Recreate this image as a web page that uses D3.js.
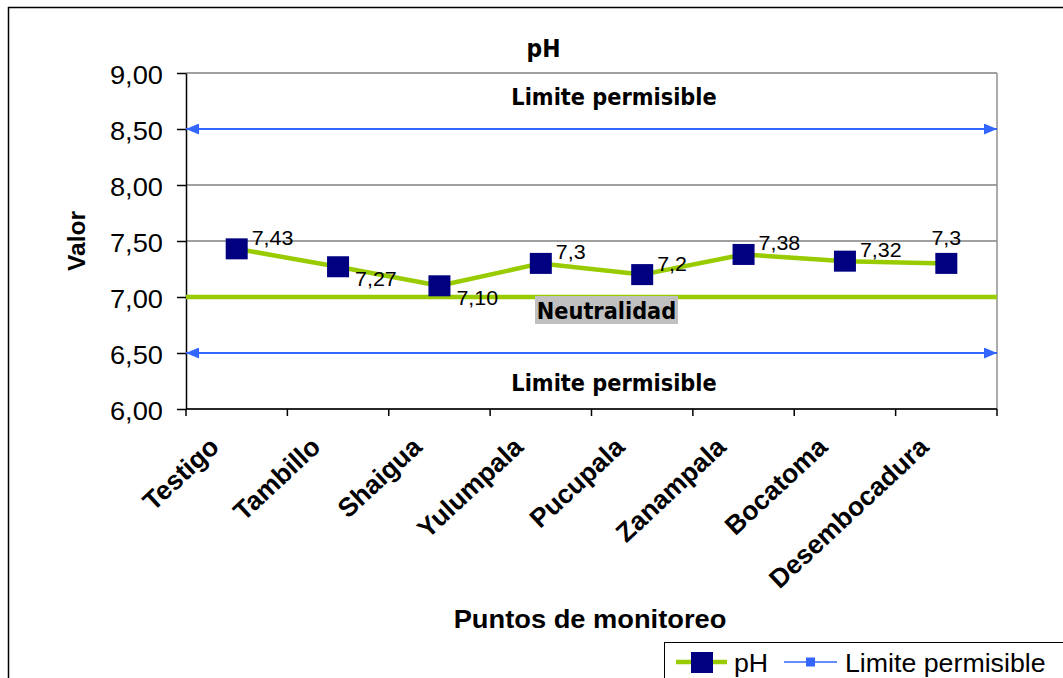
<!DOCTYPE html>
<html>
<head>
<meta charset="utf-8">
<script src="https://cdn.jsdelivr.net/npm/d3@7"></script>
<style>
  html, body { margin: 0; padding: 0; background: #fff; }
  svg { display: block; }
</style>
</head>
<body>
<script>
// pH readings at each monitoring point
const categories = ["Testigo", "Tambillo", "Shaigua", "Yulumpala", "Pucupala", "Zanampala", "Bocatoma", "Desembocadura"];
const phValues = [7.43, 7.27, 7.10, 7.3, 7.2, 7.38, 7.32, 7.3];
const phLabels = ["7,43", "7,27", "7,10", "7,3", "7,2", "7,38", "7,32", "7,3"];
const labelSide = ["right", "below", "below", "right", "right", "right", "right", "above"];
const yTicks = [6, 6.5, 7, 7.5, 8, 8.5, 9];
const limitValues = [6.5, 8.5];
const neutralValue = 7.0;

const W = 1063, H = 678;
const plot = { left: 186, right: 997, top: 73, bottom: 409 };
const ARIAL = "'Liberation Sans', Arial, sans-serif";
const TAHOMA = "'DejaVu Sans', Verdana, sans-serif";
const SX = 1.07;          // slight widening of the Arial-style text
const TX = 0.91;          // slight narrowing of the Tahoma-style text
const GREEN = "#99cc00", NAVY = "#000080", BLUE = "#3366ff";

const comma = v => d3.format(".2f")(v).replace(".", ",");

const svg = d3.select("body").append("svg").attr("width", W).attr("height", H);

// chart frame
svg.append("rect").attr("x", 8.5).attr("y", 7.5).attr("width", 1100).attr("height", 700)
  .attr("fill", "#fff").attr("stroke", "#000").attr("stroke-width", 1.5);

const x = d3.scaleBand().domain(categories).range([plot.left, plot.right]);
const y = d3.scaleLinear().domain([6, 9]).range([plot.bottom, plot.top]);

// horizontally scaled text helper
function scaledText(parent, px, py, str, opts) {
  return parent.append("text")
    .attr("transform", `translate(${px},${py}) scale(${opts.sx},1)`)
    .attr("font-family", opts.family)
    .attr("font-size", opts.size)
    .attr("font-weight", opts.weight || "normal")
    .attr("text-anchor", opts.anchor || "start")
    .attr("fill", "#000")
    .text(str);
}
const arialText = (p, px, py, s, o) => scaledText(p, px, py, s, Object.assign({ family: ARIAL, sx: SX }, o));
const tahomaText = (p, px, py, s, o) => scaledText(p, px, py, s, Object.assign({ family: TAHOMA, sx: TX, weight: "bold", anchor: "middle" }, o));

// gridlines
svg.append("g").selectAll("line").data(yTicks).join("line")
  .attr("x1", plot.left).attr("x2", plot.right)
  .attr("y1", d => y(d)).attr("y2", d => y(d))
  .attr("stroke", "#808080").attr("stroke-width", 1.5);

// right edge of the plot area
svg.append("line").attr("x1", plot.right).attr("x2", plot.right)
  .attr("y1", plot.top).attr("y2", plot.bottom)
  .attr("stroke", "#909090").attr("stroke-width", 1.5);

// y axis
const yAxis = svg.append("g").attr("transform", `translate(${plot.left},0)`)
  .call(d3.axisLeft(y).tickValues(yTicks).tickSize(9).tickSizeOuter(0).tickFormat(comma));
yAxis.select(".domain").attr("stroke", "#000").attr("stroke-width", 1.5);
yAxis.selectAll(".tick line").attr("stroke", "#000").attr("stroke-width", 1.5);
yAxis.selectAll(".tick text")
  .attr("x", -23 / SX).attr("dy", "0.4em")
  .attr("transform", `scale(${SX},1)`)
  .attr("font-family", ARIAL).attr("font-size", 25.5).attr("fill", "#000");

// x axis with ticks on category boundaries
const xAxis = svg.append("g");
xAxis.append("line").attr("x1", plot.left).attr("x2", plot.right)
  .attr("y1", plot.bottom).attr("y2", plot.bottom)
  .attr("stroke", "#000").attr("stroke-width", 1.5);
xAxis.selectAll("line.tk").data(d3.range(categories.length + 1)).join("line")
  .attr("class", "tk")
  .attr("x1", i => plot.left + i * x.step()).attr("x2", i => plot.left + i * x.step())
  .attr("y1", plot.bottom).attr("y2", plot.bottom + 7)
  .attr("stroke", "#000").attr("stroke-width", 1.5);
xAxis.selectAll("text").data(categories).join("text")
  .attr("transform", d => `translate(${x(d) + x.bandwidth() / 2 - 16},${plot.bottom + 40}) rotate(-43)`)
  .attr("text-anchor", "end")
  .attr("font-family", ARIAL).attr("font-size", 26.5).attr("font-weight", "bold")
  .attr("fill", "#000")
  .text(d => d);

// arrow heads for the permissible-limit lines
const defs = svg.append("defs");
defs.append("marker").attr("id", "arrow")
  .attr("viewBox", "0 0 13 11").attr("refX", 13).attr("refY", 5.5)
  .attr("markerUnits", "userSpaceOnUse").attr("markerWidth", 13).attr("markerHeight", 11)
  .attr("orient", "auto-start-reverse")
  .append("path").attr("d", "M0,0 L13,5.5 L0,11 Z").attr("fill", BLUE);

svg.append("g").selectAll("line").data(limitValues).join("line")
  .attr("x1", plot.left).attr("x2", plot.right)
  .attr("y1", d => y(d)).attr("y2", d => y(d))
  .attr("stroke", BLUE).attr("stroke-width", 2)
  .attr("marker-start", "url(#arrow)").attr("marker-end", "url(#arrow)");

// neutrality line
svg.append("line").attr("x1", plot.left).attr("x2", plot.right)
  .attr("y1", y(neutralValue)).attr("y2", y(neutralValue))
  .attr("stroke", GREEN).attr("stroke-width", 4.5);

// annotations
tahomaText(svg, 614, 105, "Limite permisible", { size: 23 });
tahomaText(svg, 614, 391, "Limite permisible", { size: 23 });
const neutralLabel = svg.append("g");
neutralLabel.append("rect")
  .attr("x", 535).attr("y", 296).attr("width", 143).attr("height", 28)
  .attr("fill", "#c0c0c0");
tahomaText(neutralLabel, 606.5, 319, "Neutralidad", { size: 23 });

// pH series
const line = d3.line().x((d, i) => x(categories[i]) + x.bandwidth() / 2).y(d => y(d));
svg.append("path").datum(phValues)
  .attr("d", line).attr("fill", "none")
  .attr("stroke", GREEN).attr("stroke-width", 4.5).attr("stroke-linejoin", "round");

svg.append("g").selectAll("rect").data(phValues).join("rect")
  .attr("x", (d, i) => x(categories[i]) + x.bandwidth() / 2 - 11)
  .attr("y", d => y(d) - 10.5)
  .attr("width", 22).attr("height", 21)
  .attr("fill", NAVY);

// value labels
const labels = svg.append("g");
phValues.forEach((v, i) => {
  const px = x(categories[i]) + x.bandwidth() / 2, py = y(v);
  const side = labelSide[i];
  if (side === "above") arialText(labels, px, py - 18, phLabels[i], { size: 20, anchor: "middle" });
  else if (side === "below") arialText(labels, px + 17, py + 19, phLabels[i], { size: 20 });
  else arialText(labels, px + 15, py - 4, phLabels[i], { size: 20 });
});

// titles
tahomaText(svg, 543.5, 57, "pH", { size: 24 });
arialText(svg, 590, 628, "Puntos de monitoreo", { size: 25.5, weight: "bold", anchor: "middle" });
svg.append("text")
  .attr("transform", `translate(85,241) rotate(-90)`)
  .attr("text-anchor", "middle")
  .attr("font-family", ARIAL).attr("font-size", 24.5).attr("font-weight", "bold")
  .attr("fill", "#000").text("Valor");

// legend
const lg = svg.append("g");
lg.append("rect").attr("x", 664.5).attr("y", 642.5).attr("width", 420).attr("height", 60)
  .attr("fill", "#fff").attr("stroke", "#000").attr("stroke-width", 1);
lg.append("line").attr("x1", 676).attr("x2", 727).attr("y1", 662).attr("y2", 662)
  .attr("stroke", GREEN).attr("stroke-width", 4.5);
lg.append("rect").attr("x", 691).attr("y", 652).attr("width", 22).attr("height", 21).attr("fill", NAVY);
arialText(lg, 734, 672, "pH", { size: 25 });
lg.append("line").attr("x1", 784).attr("x2", 837).attr("y1", 662).attr("y2", 662)
  .attr("stroke", BLUE).attr("stroke-width", 1.5);
lg.append("rect").attr("x", 806).attr("y", 657.5).attr("width", 9).attr("height", 9).attr("fill", BLUE);
arialText(lg, 845, 672, "Limite permisible", { size: 25 });
</script>
</body>
</html>
